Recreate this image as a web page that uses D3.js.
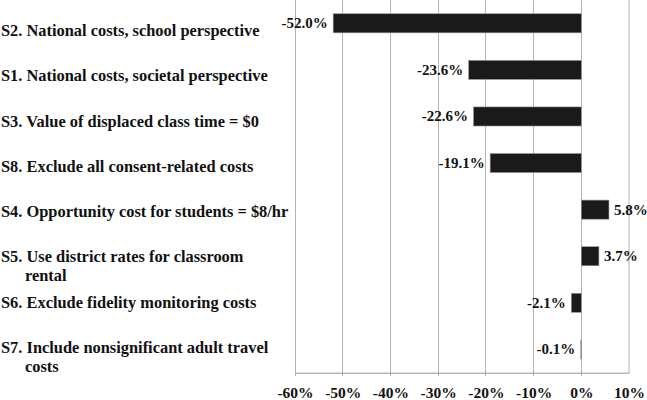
<!DOCTYPE html>
<html>
<head>
<meta charset="utf-8">
<script src="https://cdn.jsdelivr.net/npm/d3@7"></script>
<style>
  html, body { margin: 0; padding: 0; background: #fff; }
  svg { display: block; font-family: "Liberation Serif", "Times New Roman", serif; font-weight: bold; }
</style>
</head>
<body>
<svg id="chart" width="647" height="400"></svg>
<script>
// Data
const categories = ["S2", "S1", "S3", "S8", "S4", "S5", "S6", "S7"];
const labelLines = [
  ["S2. National costs, school perspective"],
  ["S1. National costs, societal perspective"],
  ["S3. Value of displaced class time = $0"],
  ["S8. Exclude all consent-related costs"],
  ["S4. Opportunity cost for students = $8/hr"],
  ["S5. Use district rates for classroom", "rental"],
  ["S6. Exclude fidelity monitoring costs"],
  ["S7. Include nonsignificant adult travel", "costs"]
];
const values = [-52.0, -23.6, -22.6, -19.1, 5.8, 3.7, -2.1, -0.1];
const tickValues = [-60, -50, -40, -30, -20, -10, 0, 10];

const svg = d3.select("#chart");
const plot = { left: 295, right: 629, top: 0, bottom: 372.7 };

const x = d3.scaleLinear().domain([-60, 10]).range([plot.left, plot.right]);
const y = d3.scaleBand().domain(categories).range([plot.top, plot.bottom]).paddingInner(0.59).paddingOuter(0.295);
const labelY = d3.scalePoint().domain(categories).range([36, 353]);

// gridlines
svg.append("g").selectAll("line").data(tickValues).join("line")
  .attr("x1", d => x(d)).attr("x2", d => x(d))
  .attr("y1", plot.top).attr("y2", d => d === 10 ? plot.bottom : plot.bottom + 3.5)
  .attr("stroke", d => d === 10 ? "#d9d9d9" : "#b3b3b3")
  .attr("stroke-width", d => d === 10 ? 2 : 1)
  .attr("shape-rendering", "crispEdges");

// axis
const axis = d3.axisBottom(x).tickValues(tickValues).tickFormat(d => d + "%").tickSize(0).tickPadding(14);
const ag = svg.append("g").attr("transform", `translate(0,${plot.bottom})`).call(axis);
ag.attr("font-family", null).attr("font-size", null);
ag.select(".domain").attr("stroke", "#999").attr("stroke-width", 1);
ag.selectAll("text").attr("font-family", "Liberation Serif, serif").attr("font-weight", "bold")
  .attr("font-size", 15.5).attr("fill", "#111");

// bars
svg.append("g").selectAll("rect").data(values).join("rect")
  .attr("x", d => x(Math.min(0, d)))
  .attr("width", d => Math.abs(x(d) - x(0)))
  .attr("y", (d, i) => y(categories[i]))
  .attr("height", y.bandwidth())
  .attr("fill", "#1a1a1a")
  .attr("stroke", "#9a9a9a").attr("stroke-width", 0.6);

// value labels
svg.append("g").selectAll("text").data(values).join("text")
  .attr("x", d => d < 0 ? x(d) - 5.5 : x(d) + 5)
  .attr("y", (d, i) => y(categories[i]) + y.bandwidth() / 2 + 5)
  .attr("text-anchor", d => d < 0 ? "end" : "start")
  .attr("font-size", 15).attr("fill", "#111")
  .text(d => d.toFixed(1) + "%");

// category labels
const lg = svg.append("g");
labelLines.forEach((lines, i) => {
  const t = lg.append("text").attr("font-size", 16.4).attr("fill", "#111")
    .attr("y", labelY(categories[i]));
  lines.forEach((ln, j) => {
    t.append("tspan").attr("x", j === 0 ? 1 : 25).attr("dy", j === 0 ? 0 : 18.5).text(ln);
  });
});
</script>
</body>
</html>
